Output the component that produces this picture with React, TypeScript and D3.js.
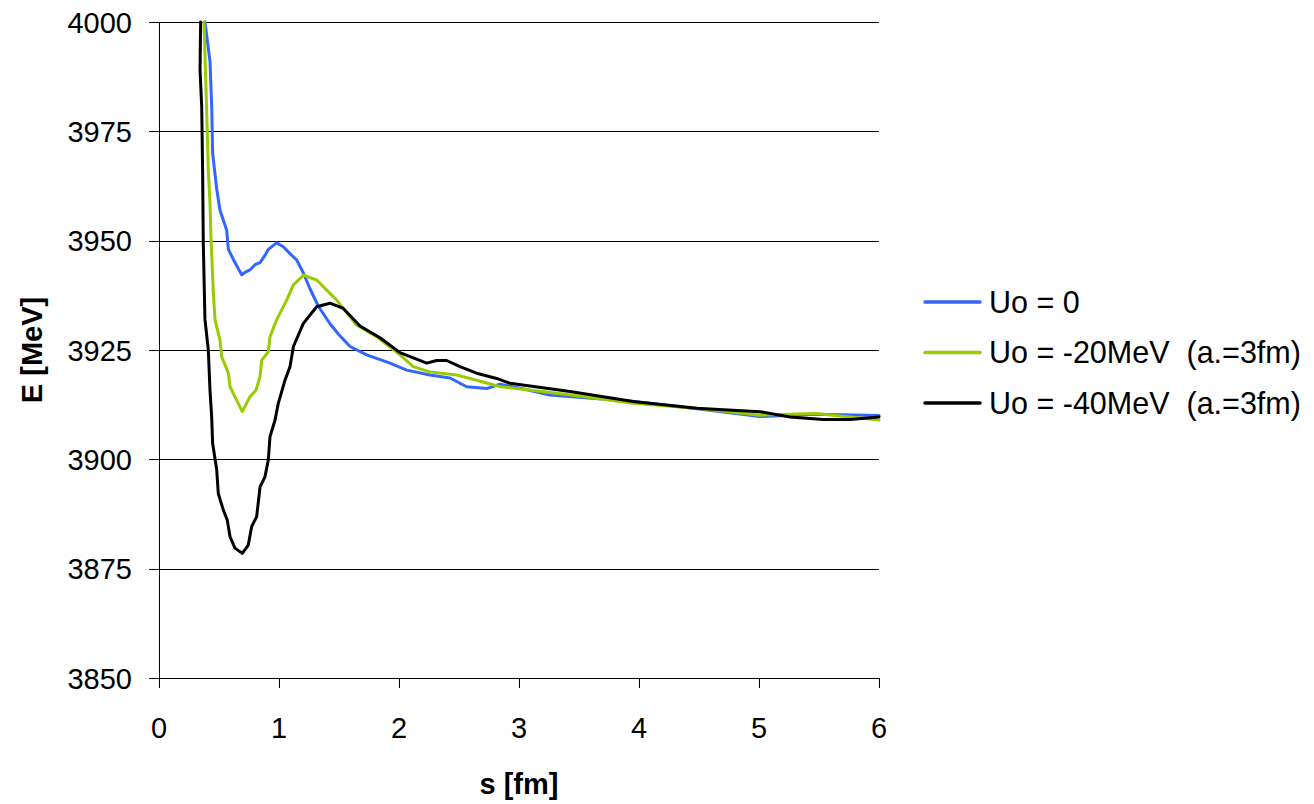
import React from "react";
import * as d3 from "d3";

const xTicks = [0, 1, 2, 3, 4, 5, 6];
const yTicks = [3850, 3875, 3900, 3925, 3950, 3975, 4000];

const seriesNames = ["Uo = 0", "Uo = -20MeV  (a.=3fm)", "Uo = -40MeV  (a.=3fm)"];
const seriesColors = ["#3366FF", "#99CC00", "#000000"];

const blueS = [0.383,0.425,0.44,0.447,0.48,0.508,0.564,0.578,0.633,0.689,0.72,0.758,0.8,0.842,0.88,0.911,0.98,1.036,1.1,1.147,1.203,1.258,1.328,1.425,1.5,1.592,1.731,1.925,2.064,2.258,2.425,2.564,2.731,2.842,3.0,3.258,3.5,3.953,4.5,5.008,5.475,6];
const blueE = [4000,3991,3980,3970,3962,3957,3952.4,3948,3945,3942.2,3942.8,3943.3,3944.5,3945,3946.5,3948,3949.5,3948.6,3946.8,3945.6,3942.6,3939,3935,3931,3928.5,3925.8,3923.9,3922,3920.4,3919.3,3918.6,3916.6,3916.2,3917.2,3916.3,3914.7,3914.2,3913.2,3911.5,3909.8,3910.3,3910];

const greenS = [0.375,0.397,0.411,0.425,0.433,0.453,0.467,0.508,0.522,0.578,0.592,0.653,0.694,0.758,0.808,0.842,0.856,0.911,0.925,0.98,1.064,1.12,1.203,1.314,1.481,1.647,1.814,2.008,2.119,2.258,2.481,2.647,2.842,2.981,3.5,3.953,4.5,5.008,5.475,6];
const greenE = [4000,3980,3966,3958.6,3950.8,3938,3931.9,3927.3,3923.5,3919.7,3916.6,3913.2,3910.9,3914.3,3915.8,3918.9,3922.7,3924.6,3928,3931.9,3936.4,3939.9,3942.1,3941,3936.4,3930.7,3928,3923.9,3921.2,3920,3919.3,3918.1,3916.6,3916.2,3914.5,3912.8,3911.6,3910.1,3910.5,3909];

const blackS = [0.347,0.342,0.356,0.364,0.369,0.383,0.411,0.425,0.439,0.447,0.481,0.494,0.536,0.569,0.592,0.633,0.694,0.744,0.772,0.814,0.842,0.883,0.911,0.925,0.967,0.994,1.05,1.092,1.12,1.203,1.314,1.425,1.536,1.675,1.842,2.008,2.231,2.314,2.397,2.508,2.647,2.814,2.925,3.425,3.953,4.481,5.008,5.258,5.536,5.758,6];
const blackE = [4000,3989,3980.6,3964.6,3949.5,3932,3925,3915.8,3909.7,3903.6,3897.6,3892.2,3888.4,3886.1,3882.3,3879.7,3878.5,3880.4,3884.6,3886.9,3893.7,3896,3899.9,3905.2,3909,3912.8,3918.1,3921.2,3925.8,3931.1,3934.9,3935.7,3934.5,3930.5,3927.8,3924.4,3922,3922.6,3922.6,3921.2,3919.7,3918.5,3917.4,3915.5,3913.2,3911.7,3910.9,3909.7,3909.1,3909.1,3909.7];

const seriesS = [blueS, greenS, blackS];
const seriesE = [blueE, greenE, blackE];

const W = 1314;
const H = 804;
const left = 159;
const right = 879;
const top = 22;
const bottom = 678;

export default function App() {
  const x = d3.scaleLinear().domain([0, 6]).range([left, right]);
  const y = d3.scaleLinear().domain([3850, 4000]).range([bottom, top]);
  const line = d3
    .line<[number, number]>()
    .x((d) => x(d[0]))
    .y((d) => y(d[1]))
    .curve(d3.curveLinear);
  const font = "'Liberation Sans', Arial, sans-serif";
  const fs = 29;

  return (
    <svg
      width={W}
      height={H}
      style={{ position: "absolute", left: 0, top: 0, background: "#fff" }}
      fontFamily={font}
    >
      <defs>
        <clipPath id="plotclip">
          <rect x={left} y={top - 2} width={right - left + 2} height={bottom - top + 4} />
        </clipPath>
      </defs>
      {yTicks.map((t) => (
        <line key={"g" + t} x1={left} x2={right} y1={Math.round(y(t)) + 0.5} y2={Math.round(y(t)) + 0.5} stroke="#000" strokeWidth={1} />
      ))}
      <line x1={left + 0.5} x2={left + 0.5} y1={top} y2={bottom} stroke="#000" strokeWidth={1} />
      {yTicks.map((t) => (
        <g key={"yt" + t}>
          <line x1={left - 10} x2={left} y1={Math.round(y(t)) + 0.5} y2={Math.round(y(t)) + 0.5} stroke="#000" />
          <text x={132} y={y(t) + 10.5} textAnchor="end" fontSize={fs} fill="#000">
            {t}
          </text>
        </g>
      ))}
      {xTicks.map((t) => (
        <g key={"xt" + t}>
          <line x1={Math.round(x(t)) + 0.5} x2={Math.round(x(t)) + 0.5} y1={bottom} y2={bottom + 10} stroke="#000" />
          <text x={x(t)} y={738} textAnchor="middle" fontSize={fs} fill="#000">
            {t}
          </text>
        </g>
      ))}
      <text x={519} y={794} textAnchor="middle" fontSize={fs} fontWeight="bold" fill="#000">
        s [fm]
      </text>
      <text
        transform={`translate(42, ${(top + bottom) / 2}) rotate(-90)`}
        textAnchor="middle"
        fontSize={fs}
        fontWeight="bold"
        fill="#000"
      >
        E [MeV]
      </text>
      <g clipPath="url(#plotclip)">
        {seriesS.map((s, i) => (
          <path
            key={"s" + i}
            d={line(s.map((v, j) => [v, seriesE[i][j]] as [number, number])) || ""}
            fill="none"
            stroke={seriesColors[i]}
            strokeWidth={3}
            strokeLinejoin="round"
            strokeLinecap="round"
          />
        ))}
      </g>
      {seriesNames.map((n, i) => (
        <g key={"l" + i}>
          <line x1={925} x2={980} y1={302 + i * 50.5} y2={302 + i * 50.5} stroke={seriesColors[i]} strokeWidth={3.5} strokeLinecap="round" />
          <text x={989} y={302 + i * 50.5 + 10.5} fontSize={30.5} fill="#000" style={{ whiteSpace: "pre" }}>
            {n}
          </text>
        </g>
      ))}
    </svg>
  );
}
